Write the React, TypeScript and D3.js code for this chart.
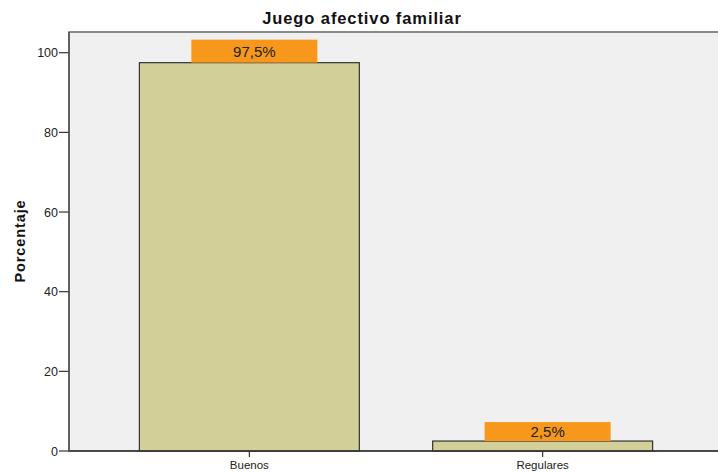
import * as d3 from "d3";

const categories = ["Buenos", "Regulares"];
const values = [97.5, 2.5];
const labels = ["97,5%", "2,5%"];
const yTicks = [0, 20, 40, 60, 80, 100];

const W = 718;
const H = 472;
const L = 69;
const R = 723;
const T = 32;
const B = 451;

const x = d3.scaleBand<string>().domain(categories).range([L, R]).paddingInner(0.25).paddingOuter(0.24);
const y = d3.scaleLinear().domain([0, 105.2]).range([B, T]);

export default function App() {
  return (
    <svg width={W} height={H} style={{ position: "absolute", left: 0, top: 0, fontFamily: "'Liberation Sans', Arial, sans-serif" }}>
      <rect x={0} y={0} width={W} height={H} fill="#fff" />
      <text x={362} y={24} textAnchor="middle" fontSize={16.5} fontWeight={700} letterSpacing={0.9} fill="#111">
        Juego afectivo familiar
      </text>
      <rect x={L} y={T} width={R - L} height={B - T} fill="#f0f0f0" stroke="#666" strokeWidth={1.5} />
      {yTicks.map((t) => (
        <g key={t}>
          <line x1={L - 10} x2={L} y1={y(t)} y2={y(t)} stroke="#333" strokeWidth={1.2} />
          <text x={L - 11} y={y(t) + 4.5} textAnchor="end" fontSize={12.5} fill="#222">
            {t}
          </text>
        </g>
      ))}
      <text transform={`translate(25,241) rotate(-90)`} textAnchor="middle" fontSize={14.5} fontWeight={700} letterSpacing={0.9} fill="#111">
        Porcentaje
      </text>
      {categories.map((c, i) => {
        const bx = x(c)!;
        const bw = x.bandwidth();
        const cx = bx + bw / 2;
        const top = y(values[i]);
        const lw = 126;
        const lh = i === 0 ? 23 : 19;
        return (
          <g key={c}>
            <rect x={bx} y={top} width={bw} height={B - top} fill="#d3cf98" stroke="#333" strokeWidth={1.2} />
            <rect x={cx + 5 - lw / 2} y={top - lh} width={lw} height={lh} fill="#f7981d" />
            <text x={cx + 5} y={top - lh / 2 + 5.5} textAnchor="middle" fontSize={15} fill="#222">
              {labels[i]}
            </text>
            <line x1={cx} x2={cx} y1={B} y2={B + 6} stroke="#333" strokeWidth={1.2} />
            <text x={cx} y={B + 18} textAnchor="middle" fontSize={11.5} fill="#222">
              {c}
            </text>
          </g>
        );
      })}
      <line x1={L} x2={W} y1={B} y2={B} stroke="#333" strokeWidth={1.5} />
      <line x1={L} x2={L} y1={T} y2={B} stroke="#555" strokeWidth={1.5} />
    </svg>
  );
}
